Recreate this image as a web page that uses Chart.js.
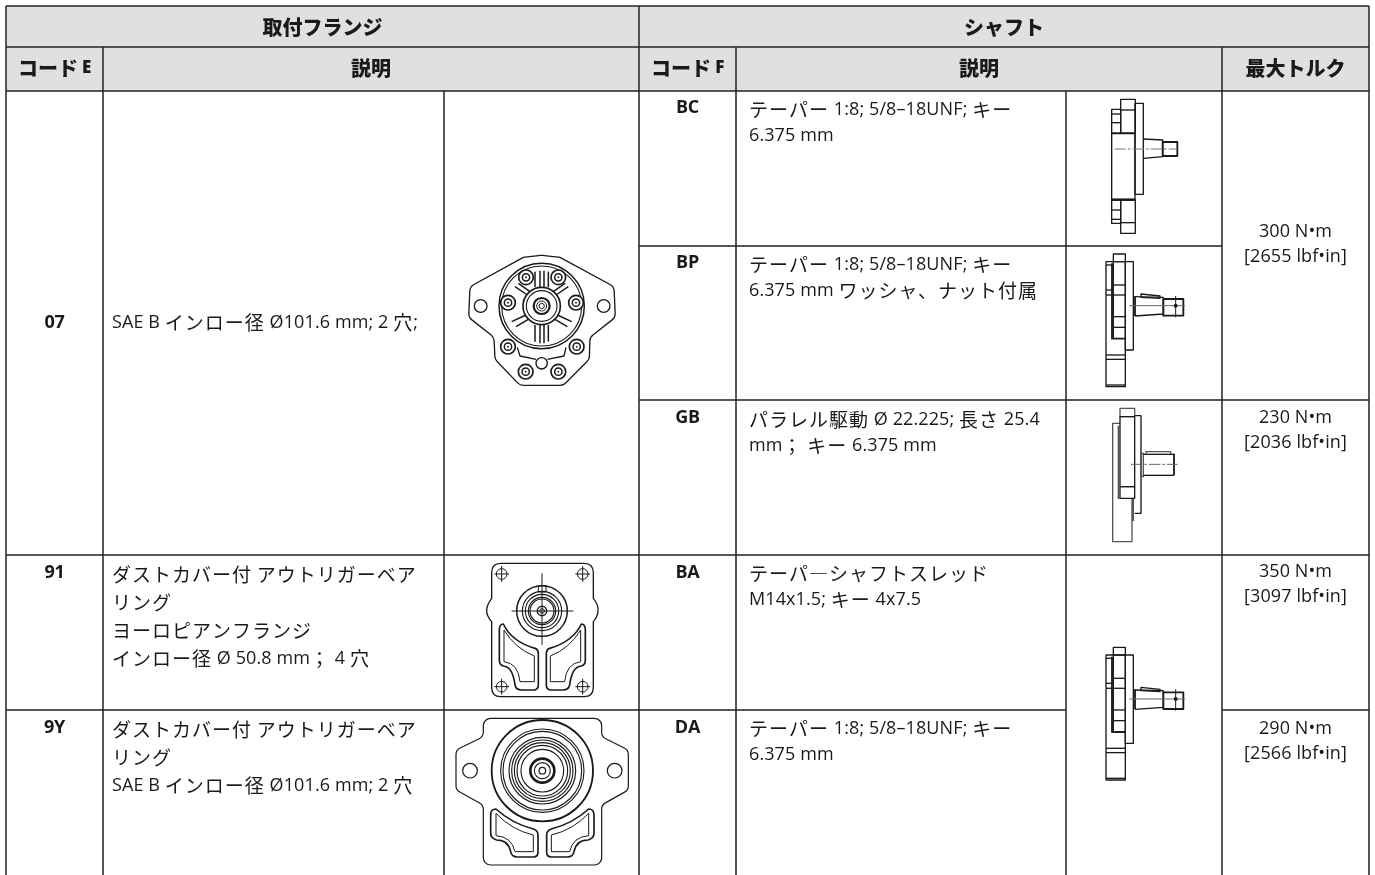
<!DOCTYPE html>
<html>
<head>
<meta charset="utf-8">
<script src="https://cdn.jsdelivr.net/npm/chart.js@4"></script>
<style>
  html, body { margin: 0; padding: 0; background: #fff; }
  canvas { display: block; }
</style>
</head>
<body>
<canvas id="chart" width="1375" height="875"></canvas>
<script>
// table structure, in axis units
const columnEdges = [6, 103, 444, 639, 736, 1066, 1222, 1369]
const rowEdges = [6, 47, 91, 246, 400, 555, 710, 880]

// header labels
const groupHeaders = ["取付フランジ", "シャフト"]
const flangeHeaders = ["コード E", "説明"]
const shaftHeaders = ["コード F", "説明", "最大トルク"]

// table content
const flangeCodes = ["07", "91", "9Y"]
const flangeTexts = [
  ["SAE B インロー径 Ø101.6 mm; 2 穴;"],
  ["ダストカバー付 アウトリガーベア", "リング", "ヨーロピアンフランジ", "インロー径 Ø 50.8 mm； 4 穴"],
  ["ダストカバー付 アウトリガーベア", "リング", "SAE B インロー径 Ø101.6 mm; 2 穴"]
]
const shaftCodes = ["BC", "BP", "GB", "BA", "DA"]
const shaftTexts = [
  ["テーパー 1:8; 5/8–18UNF; キー", "6.375 mm"],
  ["テーパー 1:8; 5/8–18UNF; キー", "6.375 mm ワッシャ、ナット付属"],
  ["パラレル駆動 Ø 22.225; 長さ 25.4", "mm； キー 6.375 mm"],
  ["テーパ―シャフトスレッド", "M14x1.5; キー 4x7.5"],
  ["テーパー 1:8; 5/8–18UNF; キー", "6.375 mm"]
]
const torqueNm = ["300 N•m", "230 N•m", "350 N•m", "290 N•m"]
const torqueLbf = ["[2655 lbf•in]", "[2036 lbf•in]", "[3097 lbf•in]", "[2566 lbf•in]"]

const CJK = '"Noto Sans CJK JP"'
const LATIN = '"Open Sans"'
const bodyStyle = { cjk: `400 19px ${CJK}`, cjkGap: 1, latin: `400 18px ${LATIN}`, latinGap: 0.1 }
const codeStyle = { cjk: `700 19px ${CJK}`, cjkGap: 0, latin: `700 18px ${LATIN}`, latinGap: -0.2 }
const headStyle = { cjk: `900 20px ${CJK}`, cjkGap: 0, latin: `800 17px ${LATIN}`, latinGap: -0.3 }

const CJK_RUN = /[\u3000-\u30ff\u4e00-\u9fff\uff00-\uffef\u2015]+|[^\u3000-\u30ff\u4e00-\u9fff\uff00-\uffef\u2015]+/g

function isCjk(run) {
  return /[\u3000-\u30ff\u4e00-\u9fff\uff00-\uffef\u2015]/.test(run)
}

function putText(ctx, text, x, y, style, align) {
  const runs = (text.match(CJK_RUN) || []).map(run => {
    const cjk = isCjk(run)
    ctx.font = cjk ? style.cjk : style.latin
    ctx.letterSpacing = (cjk ? style.cjkGap : style.latinGap) + "px"
    return { run, cjk, width: ctx.measureText(run).width }
  })
  const total = runs.reduce((sum, r) => sum + r.width, 0)
  let cursor = align === "center" ? x - total / 2 : x
  ctx.fillStyle = "#1a1a1a"
  ctx.textAlign = "left"
  ctx.textBaseline = "middle"
  runs.forEach(r => {
    ctx.font = r.cjk ? style.cjk : style.latin
    ctx.letterSpacing = (r.cjk ? style.cjkGap : style.latinGap) + "px"
    ctx.fillText(r.run, cursor, y)
    cursor += r.width
  })
  ctx.letterSpacing = "0px"
}

// --- line art, written in 3x crop units around an origin ---
function ring(ctx, x, y, r) {
  ctx.beginPath()
  ctx.arc(x, y, r, 0, Math.PI * 2)
  ctx.stroke()
}

function poly(ctx, pts, close) {
  ctx.beginPath()
  pts.forEach((p, i) => i ? ctx.lineTo(p[0], p[1]) : ctx.moveTo(p[0], p[1]))
  if (close) ctx.closePath()
  ctx.stroke()
}

function box(ctx, x1, y1, x2, y2) {
  ctx.strokeRect(x1, y1, x2 - x1, y2 - y1)
}

function roundPoly(ctx, pts, r) {
  const n = pts.length
  ctx.beginPath()
  ctx.moveTo((pts[0][0] + pts[n - 1][0]) / 2, (pts[0][1] + pts[n - 1][1]) / 2)
  pts.forEach((p, i) => {
    const next = pts[(i + 1) % n]
    ctx.arcTo(p[0], p[1], next[0], next[1], r)
  })
  ctx.closePath()
  ctx.stroke()
}

function mirrored(ctx, axis, draw) {
  draw()
  ctx.save()
  ctx.translate(axis * 2, 0)
  ctx.scale(-1, 1)
  draw()
  ctx.restore()
}

function flangeGear(ctx) {
  ctx.lineWidth = 4
  roundPoly(ctx, [[305, 76], [250, 82], [90, 170], [86, 262], [162, 322], [165, 388], [240, 466], [370, 466], [448, 388], [450, 322], [526, 262], [522, 170], [360, 82]], 24)
  ring(ctx, 122, 228, 19); ring(ctx, 491, 228, 19); ring(ctx, 305, 400, 17)
  ctx.lineWidth = 4.5
  ring(ctx, 305, 228, 128)
  ctx.lineWidth = 3.4
  ring(ctx, 305, 228, 120)
  ctx.lineWidth = 4.5
  // ribs
  ;[[285, 125, 285, 172], [300, 122, 300, 172], [312, 122, 312, 172], [325, 125, 325, 172],
    [285, 285, 285, 335], [300, 285, 300, 340], [312, 285, 312, 340], [325, 285, 325, 335],
    [225, 170, 262, 195], [235, 160, 270, 185], [385, 170, 348, 195], [375, 160, 340, 185],
    [215, 275, 258, 255], [228, 290, 265, 268], [395, 275, 352, 255], [382, 290, 345, 268]
  ].forEach(l => poly(ctx, [[l[0], l[1]], [l[2], l[3]]]))
  ctx.lineWidth = 5
  ring(ctx, 305, 228, 56)
  ctx.lineWidth = 3.4
  ring(ctx, 305, 228, 46)
  ctx.lineWidth = 6.5
  ring(ctx, 305, 228, 24)
  ctx.lineWidth = 3
  ring(ctx, 305, 228, 15); ring(ctx, 305, 228, 8)
  ;[[258, 142], [355, 142], [204, 218], [408, 218], [204, 350], [410, 350], [257, 425], [355, 425]].forEach(b => {
    ctx.fillStyle = "#fff"
    ctx.beginPath(); ctx.arc(b[0], b[1], 22, 0, Math.PI * 2); ctx.fill()
    ctx.lineWidth = 5
    ring(ctx, b[0], b[1], 22)
    ctx.lineWidth = 4.5
    ring(ctx, b[0], b[1], 11)
    ctx.fillStyle = "#333"
    ctx.beginPath(); ctx.arc(b[0], b[1], 3, 0, Math.PI * 2); ctx.fill()
  })
  ctx.lineWidth = 4
  poly(ctx, [[232, 352], [240, 378], [288, 388]])
  poly(ctx, [[378, 352], [372, 378], [322, 388]])
}

function flangeEuro(ctx) {
  ctx.lineWidth = 4
  ctx.stroke(new Path2D("M182,40 L432,40 Q460,40 460,68 L460,145 Q476,165 474,182 Q474,198 460,215 L460,412 Q460,440 432,440 L182,440 Q155,440 155,412 L155,215 Q140,198 140,182 Q140,165 155,145 L155,68 Q155,40 182,40 Z"))
  ctx.lineWidth = 3
  ;[[185, 72], [428, 72], [185, 410], [428, 410]].forEach(h => {
    ring(ctx, h[0], h[1], 16)
    poly(ctx, [[h[0] - 22, h[1]], [h[0] + 22, h[1]]])
    poly(ctx, [[h[0], h[1] - 24], [h[0], h[1] + 24]])
  })
  poly(ctx, [[215, 183], [400, 183]])
  poly(ctx, [[306, 70], [306, 285]])
  ctx.lineWidth = 4.5
  ring(ctx, 306, 183, 76)
  ctx.lineWidth = 3.4
  ring(ctx, 306, 183, 59); ring(ctx, 306, 183, 50); ring(ctx, 306, 183, 41); ring(ctx, 306, 183, 36)
  ctx.lineWidth = 4.5
  ring(ctx, 306, 183, 14)
  ctx.lineWidth = 3
  ring(ctx, 306, 183, 7)
  box(ctx, 295, 107, 318, 126)
  mirrored(ctx, 307, () => {
    ctx.lineWidth = 5
    ctx.stroke(new Path2D("M178,240 Q178,222 190,222 Q215,275 285,295 Q295,298 295,312 L295,405 Q295,420 280,420 L245,420 Q228,420 225,405 Q218,350 190,348 Q178,345 178,330 Z"))
    ctx.lineWidth = 3
    ctx.stroke(new Path2D("M192,240 L192,335 Q235,340 240,395 L283,395 L283,318 Q225,295 192,240"))
  })
}

function flangeSaeB(ctx) {
  ctx.lineWidth = 3.6
  roundPoly(ctx, [[130, 40], [485, 40], [485, 95], [565, 135], [565, 255], [485, 300], [485, 480], [130, 480], [130, 300], [48, 255], [48, 135], [130, 95]], 22)
  ring(ctx, 90, 197, 22); ring(ctx, 524, 197, 22)
  ctx.lineWidth = 5.5
  ring(ctx, 307, 197, 152)
  ctx.lineWidth = 3.4
  ;[125, 118, 100, 92, 84, 76, 64].forEach(r => ring(ctx, 307, 197, r))
  ctx.lineWidth = 8
  ring(ctx, 307, 197, 36)
  ctx.lineWidth = 3.4
  ring(ctx, 307, 197, 24)
  ring(ctx, 307, 197, 10)
  mirrored(ctx, 307, () => {
    ctx.lineWidth = 5
    ctx.stroke(new Path2D("M152,330 Q152,312 168,312 Q215,355 280,372 Q294,376 294,390 L294,442 Q294,456 280,456 L232,456 Q215,456 212,440 Q205,405 170,405 Q152,400 152,385 Z"))
    ctx.lineWidth = 3
    ctx.stroke(new Path2D("M168,325 L168,392 Q215,395 225,440 L280,440 L280,390 Q215,375 168,325"))
  })
}

function sideTaper(ctx) {
  ctx.lineWidth = 4
  box(ctx, 122, 28, 166, 130); box(ctx, 122, 330, 166, 430)
  box(ctx, 95, 130, 165, 330)
  box(ctx, 95, 58, 122, 130); box(ctx, 95, 330, 122, 400)
  box(ctx, 165, 40, 190, 313)
  ;[[122, 60, 166], [122, 398, 166], [95, 72, 122], [95, 98, 122], [95, 360, 122], [95, 388, 122]].forEach(l => poly(ctx, [[l[0], l[1]], [l[2], l[1]]]))
  ctx.lineWidth = 5.5
  poly(ctx, [[95, 130], [165, 130]]); poly(ctx, [[95, 328], [165, 328]])
  ctx.lineWidth = 4
  poly(ctx, [[190, 147], [248, 150], [248, 200], [190, 205]])
  ctx.lineWidth = 5.5
  box(ctx, 248, 156, 292, 198)
  ctx.lineWidth = 3
  ctx.strokeStyle = "#777"
  ctx.setLineDash([34, 6, 8, 6])
  poly(ctx, [[104, 177], [296, 177]])
  ctx.setLineDash([])
  ctx.strokeStyle = "#1a1a1a"
}

function sideTaperNut(ctx) {
  ctx.lineWidth = 4
  box(ctx, 78, 65, 136, 440); box(ctx, 100, 42, 136, 65); box(ctx, 136, 65, 160, 330)
  ;[[78, 75, 100], [78, 150, 100], [78, 165, 100], [100, 135, 136], [100, 165, 136], [100, 230, 136], [100, 262, 136], [78, 345, 136], [78, 358, 136], [78, 435, 136]].forEach(l => poly(ctx, [[l[0], l[1]], [l[2], l[1]]]))
  poly(ctx, [[100, 65], [100, 295]])
  ctx.lineWidth = 5.5
  poly(ctx, [[96, 70], [96, 296], [136, 296]])
  ctx.lineWidth = 4
  poly(ctx, [[165, 170], [250, 172], [250, 222], [165, 228]])
  poly(ctx, [[183, 162], [240, 168], [240, 175], [183, 172]], true)
  ctx.lineWidth = 5.5
  box(ctx, 250, 177, 310, 227)
  poly(ctx, [[165, 168], [165, 228]])
  ctx.lineWidth = 3
  poly(ctx, [[287, 168], [287, 232]])
  ctx.strokeStyle = "#666"
  poly(ctx, [[148, 197], [315, 197]])
  ctx.strokeStyle = "#1a1a1a"
  ctx.fillStyle = "#1a1a1a"
  ctx.beginPath(); ctx.arc(287, 197, 6, 0, Math.PI * 2); ctx.fill()
}

function sideParallel(ctx) {
  ctx.lineWidth = 4
  ctx.strokeStyle = "#555"
  box(ctx, 120, 40, 164, 65)
  poly(ctx, [[120, 85], [98, 85], [98, 440], [156, 440], [156, 312]])
  ctx.strokeStyle = "#1a1a1a"
  box(ctx, 120, 65, 164, 275); box(ctx, 120, 275, 164, 310)
  poly(ctx, [[164, 62], [183, 62], [183, 355], [164, 355]])
  ctx.strokeStyle = "#555"
  ctx.lineWidth = 6
  poly(ctx, [[116, 92], [116, 312]])
  poly(ctx, [[159, 312], [159, 378]])
  ctx.lineWidth = 4
  box(ctx, 183, 175, 190, 245)
  ctx.strokeStyle = "#1a1a1a"
  poly(ctx, [[190, 178], [282, 178]]); poly(ctx, [[190, 241], [282, 241]])
  ctx.strokeStyle = "#555"
  poly(ctx, [[198, 178], [198, 170], [272, 170], [272, 178]])
  ctx.strokeStyle = "#1a1a1a"
  ctx.lineWidth = 5.5
  poly(ctx, [[282, 176], [282, 241]])
  ctx.lineWidth = 3
  ctx.strokeStyle = "#666"
  ctx.setLineDash([34, 6, 8, 6])
  poly(ctx, [[153, 208], [293, 208]])
  ctx.setLineDash([])
  ctx.strokeStyle = "#1a1a1a"
}

const tablePlugin = {
  id: "tablePlugin",
  beforeDatasetsDraw(chart) {
    const { ctx, scales: { x, y } } = chart
    ctx.save()
    ctx.fillStyle = "#e0e0e0"
    const left = x.getPixelForValue(columnEdges[0])
    const right = x.getPixelForValue(columnEdges[7])
    const top = y.getPixelForValue(rowEdges[0])
    const bottom = y.getPixelForValue(rowEdges[2])
    ctx.fillRect(left, top, right - left, bottom - top)
    ctx.restore()
  },
  afterDatasetsDraw(chart) {
    const { ctx, scales: { x, y } } = chart
    const px = v => x.getPixelForValue(v)
    const py = v => y.getPixelForValue(v)
    const mid = (a, b) => (a + b) / 2
    const c = columnEdges
    ctx.save()

    // headers
    putText(ctx, groupHeaders[0], px(mid(c[0], c[3])), py(27), headStyle, "center")
    putText(ctx, groupHeaders[1], px(mid(c[3], c[7])), py(27), headStyle, "center")
    putText(ctx, flangeHeaders[0], px(mid(c[0], c[1])), py(68), headStyle, "center")
    putText(ctx, flangeHeaders[1], px(mid(c[1], c[3])), py(68), headStyle, "center")
    putText(ctx, shaftHeaders[0], px(mid(c[3], c[4])), py(68), headStyle, "center")
    putText(ctx, shaftHeaders[1], px(mid(c[4], c[6])), py(68), headStyle, "center")
    putText(ctx, shaftHeaders[2], px(mid(c[6], c[7])), py(68), headStyle, "center")

    // flange rows
    const flangeY = [323, 575, 730]
    const flangeCodeY = [323, 573, 728]
    flangeCodes.forEach((code, i) => {
      putText(ctx, code, px(mid(c[0], c[1])), py(flangeCodeY[i]), codeStyle, "center")
      flangeTexts[i].forEach((line, k) => {
        putText(ctx, line, px(c[1] + 9), py(flangeY[i] + k * 27.8), bodyStyle, "left")
      })
    })

    // shaft rows
    const shaftCodeY = [108, 263, 418, 573, 728]
    const shaftY = [110, 265, 420, 574, 729]
    shaftCodes.forEach((code, i) => {
      putText(ctx, code, px(mid(c[3], c[4])), py(shaftCodeY[i]), codeStyle, "center")
      shaftTexts[i].forEach((line, k) => {
        putText(ctx, line, px(c[4] + 13), py(shaftY[i] + k * 26), bodyStyle, "left")
      })
    })

    // torque cells
    const torqueY = [232, 418, 572, 729]
    torqueNm.forEach((nm, i) => {
      putText(ctx, nm, px(mid(c[6], c[7])), py(torqueY[i]), bodyStyle, "center")
      putText(ctx, torqueLbf[i], px(mid(c[6], c[7])), py(torqueY[i] + 25), bodyStyle, "center")
    })

    // drawings
    const art = [
      [flangeGear, 440, 230], [flangeEuro, 440, 550], [flangeSaeB, 440, 705],
      [sideTaper, 1080, 90], [sideTaperNut, 1080, 240], [sideParallel, 1080, 395], [sideTaperNut, 1080, 633.3]
    ]
    ctx.strokeStyle = "#1a1a1a"
    ctx.lineJoin = "round"
    art.forEach(([draw, ox, oy]) => {
      ctx.save()
      ctx.translate(px(ox), py(oy))
      ctx.scale(1 / 3, 1 / 3)
      draw(ctx)
      ctx.restore()
    })
    ctx.restore()
  }
}

// grid rules as one broken line on the chart's scales
function gridPoints() {
  const c = columnEdges
  const r = rowEdges
  const pts = []
  const seg = (x1, y1, x2, y2) => pts.push({ x: x1, y: y1 }, { x: x2, y: y2 }, { x: NaN, y: NaN })
  seg(c[0], r[0], c[7], r[0])
  seg(c[0], r[1], c[7], r[1])
  seg(c[0], r[2], c[7], r[2])
  seg(c[3], r[3], c[6], r[3])
  seg(c[3], r[4], c[7], r[4])
  seg(c[0], r[5], c[7], r[5])
  seg(c[0], r[6], c[5], r[6])
  seg(c[6], r[6], c[7], r[6])
  seg(c[0], r[0], c[0], r[7])
  seg(c[3], r[0], c[3], r[7])
  seg(c[7], r[0], c[7], r[7])
  seg(c[1], r[1], c[1], r[7])
  seg(c[4], r[1], c[4], r[7])
  seg(c[6], r[1], c[6], r[7])
  seg(c[2], r[2], c[2], r[7])
  seg(c[5], r[2], c[5], r[7])
  return pts
}

new Chart(document.getElementById("chart"), {
  type: "scatter",
  data: {
    datasets: [{
      data: gridPoints(),
      showLine: true,
      spanGaps: false,
      borderColor: "#222222",
      borderWidth: 1.5,
      pointRadius: 0,
      pointHoverRadius: 0
    }]
  },
  options: {
    responsive: false,
    animation: false,
    events: [],
    layout: { padding: 0 },
    plugins: { legend: { display: false }, tooltip: { enabled: false } },
    scales: {
      x: { type: "linear", min: 0, max: 1375, display: false },
      y: { type: "linear", min: 0, max: 875, reverse: true, display: false }
    }
  },
  plugins: [tablePlugin]
})
</script>
</body>
</html>
